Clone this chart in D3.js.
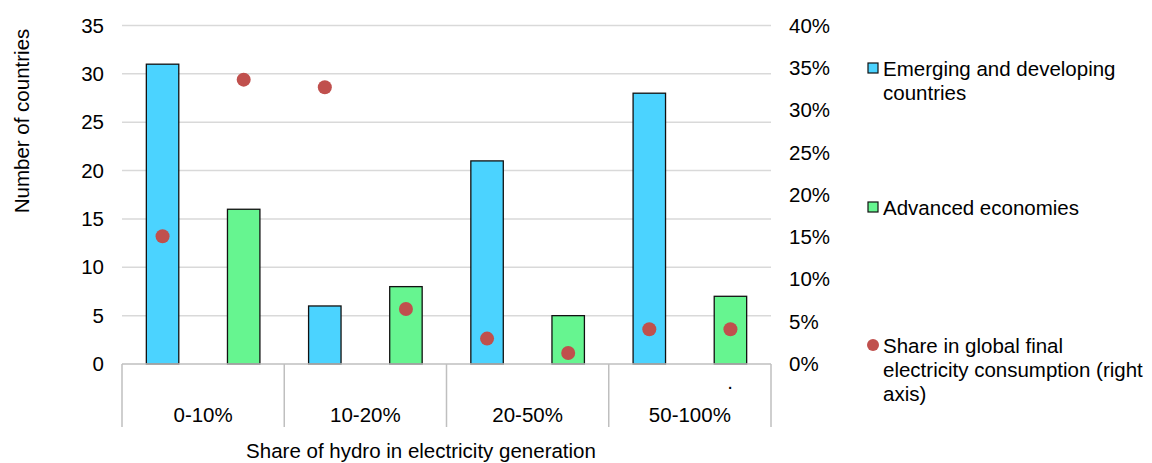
<!DOCTYPE html>
<html><head><meta charset="utf-8">
<script src="https://cdn.jsdelivr.net/npm/d3@7"></script>
<style>body{margin:0;background:#fff}svg{display:block;font-family:"Liberation Sans",Arial,sans-serif}</style>
</head><body><svg id="c" width="1152" height="463"></svg>
<script>
const categories = ["0-10%", "10-20%", "20-50%", "50-100%"];
const emerging = [31, 6, 21, 28];
const advanced = [16, 8, 5, 7];
// share in global final electricity consumption (right axis), at emerging / advanced positions
const shareEmerging = [0.151, 0.327, 0.030, 0.041];
const shareAdvanced = [0.336, 0.065, 0.013, 0.041];
const leftTicks = [0, 5, 10, 15, 20, 25, 30, 35];
const rightTicks = [0, 0.05, 0.10, 0.15, 0.20, 0.25, 0.30, 0.35, 0.40];
const seriesNames = ["Emerging and developing countries", "Advanced economies", "Share in global final electricity consumption (right axis)"];

const colBlue = "#4BD3FF", colGreen = "#66F590", colRed = "#C0504D";
const FS = 20.5;
const svg = d3.select("#c");
const x0 = 122, x1 = 771, yTop = 25.5, yBot = 364;
const x = d3.scaleBand().domain(categories).range([x0, x1]).padding(0);
const yL = d3.scaleLinear().domain([0, 35]).range([yBot, yTop]);
const yR = d3.scaleLinear().domain([0, 0.40]).range([yBot, yTop]);
const bw = x.bandwidth();
const barW = bw * 0.2;

// gridlines
svg.append("g").selectAll("line").data(leftTicks.filter(d => d > 0)).join("line")
  .attr("x1", x0).attr("x2", x1).attr("y1", d => yL(d)).attr("y2", d => yL(d))
  .attr("stroke", "#d9d9d9").attr("stroke-width", 1.5);

// left axis labels
const gl = svg.append("g").attr("transform", `translate(${x0},0)`)
  .call(d3.axisLeft(yL).tickValues(leftTicks).tickSize(0).tickPadding(18));
gl.select(".domain").remove();
gl.selectAll("text").attr("font-size", FS).attr("fill", "#000").attr("font-family", "Liberation Sans, Arial, sans-serif");

// right axis labels
const gr = svg.append("g").attr("transform", `translate(${x1},0)`)
  .call(d3.axisRight(yR).tickValues(rightTicks).tickSize(0).tickPadding(18).tickFormat(d3.format(".0%")));
gr.select(".domain").remove();
gr.selectAll("text").attr("font-size", FS).attr("fill", "#000").attr("font-family", "Liberation Sans, Arial, sans-serif");

// bars
const bars = svg.append("g");
bars.selectAll("rect.e").data(categories).join("rect").attr("class", "e")
  .attr("x", (d) => x(d) + bw * 0.25 - barW / 2).attr("width", barW)
  .attr("y", (d, i) => yL(emerging[i])).attr("height", (d, i) => yBot - yL(emerging[i]))
  .attr("fill", colBlue).attr("stroke", "#111").attr("stroke-width", 1.3);
bars.selectAll("rect.a").data(categories).join("rect").attr("class", "a")
  .attr("x", (d) => x(d) + bw * 0.75 - barW / 2).attr("width", barW)
  .attr("y", (d, i) => yL(advanced[i])).attr("height", (d, i) => yBot - yL(advanced[i]))
  .attr("fill", colGreen).attr("stroke", "#111").attr("stroke-width", 1.3);

// category axis
const ax = svg.append("g");
ax.append("line").attr("x1", x0).attr("x2", x1).attr("y1", yBot).attr("y2", yBot).attr("stroke", "#bfbfbf").attr("stroke-width", 1.5);
const bounds = categories.map(c => x(c)).concat([x1]);
ax.selectAll("line.t").data(bounds).join("line").attr("class", "t")
  .attr("x1", d => d).attr("x2", d => d).attr("y1", yBot).attr("y2", 427)
  .attr("stroke", "#bfbfbf").attr("stroke-width", 1.5);
ax.selectAll("text").data(categories).join("text")
  .attr("x", d => x(d) + bw / 2).attr("y", 421.5).attr("text-anchor", "middle")
  .attr("font-size", FS).attr("fill", "#000").text(d => d);
svg.append("text").attr("x", 730).attr("y", 389).attr("font-size", FS).attr("text-anchor", "middle").text(".");

// dots
const dots = svg.append("g");
dots.selectAll("circle.e").data(categories).join("circle").attr("class", "e")
  .attr("cx", d => x(d) + bw * 0.25).attr("cy", (d, i) => yR(shareEmerging[i])).attr("r", 7).attr("fill", colRed);
dots.selectAll("circle.a").data(categories).join("circle").attr("class", "a")
  .attr("cx", d => x(d) + bw * 0.75).attr("cy", (d, i) => yR(shareAdvanced[i])).attr("r", 7).attr("fill", colRed);

// axis titles
svg.append("text").attr("transform", "translate(29,121) rotate(-90)").attr("text-anchor", "middle")
  .attr("font-size", FS).attr("fill", "#000").text("Number of countries");
svg.append("text").attr("x", 421).attr("y", 458).attr("text-anchor", "middle")
  .attr("font-size", FS).attr("fill", "#000").text("Share of hydro in electricity generation");

// legend
const lg = svg.append("g");
const lgItems = [
  {lines: ["Emerging and developing", "countries"], y: 68, type: "rect", color: colBlue},
  {lines: ["Advanced economies"], y: 207, type: "rect", color: colGreen},
  {lines: ["Share in global final", "electricity consumption (right", "axis)"], y: 345, type: "circle", color: colRed}
];
lgItems.forEach((it) => {
  if (it.type === "rect") {
    lg.append("rect").attr("x", 868).attr("y", it.y - 5).attr("width", 10).attr("height", 10)
      .attr("fill", it.color).attr("stroke", "#111").attr("stroke-width", 1.2);
  } else {
    lg.append("circle").attr("cx", 873).attr("cy", it.y).attr("r", 6).attr("fill", it.color);
  }
  const t = lg.append("text").attr("x", 883).attr("font-size", FS).attr("fill", "#000");
  it.lines.forEach((l, j) => t.append("tspan").attr("x", 883).attr("y", it.y + 7.5 + j * 24).text(l));
});
</script></body></html>
